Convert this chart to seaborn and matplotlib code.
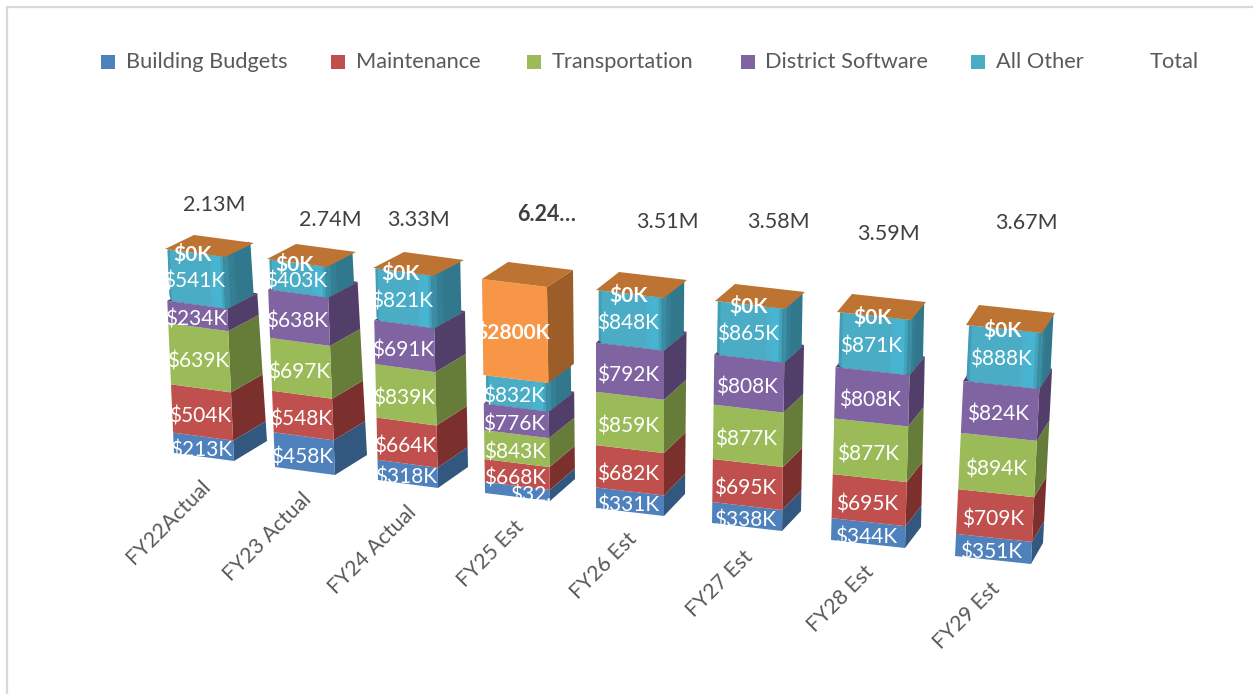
"""Budget by fiscal year, stacked bars drawn with a fake 3D perspective."""
import matplotlib
matplotlib.use("Agg")
import matplotlib.pyplot as plt
import numpy as np
import seaborn as sns
from matplotlib.patches import Polygon, Rectangle
from matplotlib.transforms import Affine2D

# data, in $K
years = ["FY22Actual", "FY23 Actual", "FY24 Actual", "FY25 Est", "FY26 Est", "FY27 Est", "FY28 Est", "FY29 Est"]
building = [213, 458, 318, 321, 331, 338, 344, 351]
maintenance = [504, 548, 664, 668, 682, 695, 695, 709]
transportation = [639, 697, 839, 843, 859, 877, 877, 894]
software = [234, 638, 691, 776, 792, 808, 808, 824]
all_other = [541, 403, 821, 832, 848, 865, 871, 888]
one_time = [0, 0, 0, 2800, 0, 0, 0, 0]
total_labels = ["2.13M", "2.74M", "3.33M", "6.24…", "3.51M", "3.58M", "3.59M", "3.67M"]
legend_names = ["Building Budgets", "Maintenance", "Transportation", "District Software", "All Other"]

# colours: front, side
front_cols = ["#4F81BD", "#C0504D", "#9BBB59", "#8064A2", "#4BACC6", "#F79646"]
side_cols = ["#33587F", "#7C302E", "#667D3A", "#523F69", "#31788C", "#9C5D28"]
top_col = "#BD7433"

# perspective layout per bar, in figure pixels
bottom_left = [(174, 453), (275, 467), (378, 480), (485, 493), (596, 508), (712, 523), (831, 540), (955, 556)]
width_vec = [(60, 8), (60, 8), (60, 8), (65, 8), (68, 8), (70, 8), (74, 8), (76, 8)]
top_left = [(165, 249), (267, 259), (373, 268), (482, 279), (596, 290), (715, 301), (837, 312), (966, 325)]
depth_bottom = [(33, -20), (32, -20), (30, -21), (25, -22), (21, -22), (19, -20), (16, -21), (12, -21)]
depth_top = [(29, -14), (29, -15), (31, -16), (26, -17), (23, -18), (20, -17), (15, -18), (13, -20)]

total_pos = [(214, 205), (330, 220), (418, 220), (547, 214), (667, 222), (778, 222), (888, 234), (1026, 223)]
tick_pos = [(169, 522), (268, 537), (372, 550), (491, 554), (604, 566), (720, 584), (841, 599), (967, 616)]
legend_marker_x = [101, 331, 527, 741, 971]
legend_text_x = [126, 356, 552, 765, 996, 1150]

series = [building, maintenance, transportation, software, all_other, one_time]
stack_tops = np.cumsum(np.array(series), axis=0)
stack_bottoms = stack_tops - np.array(series)
heights = stack_tops[-1]

W, H = 1253, 694
BAR_W = 0.8


def project(i, u, v, d=0.0):
    """bar i: u across the front, v in $K, d into the depth"""
    t = v / heights[i]
    x = bottom_left[i][0] + u * width_vec[i][0] + t * (top_left[i][0] - bottom_left[i][0])
    y = bottom_left[i][1] + u * width_vec[i][1] + t * (top_left[i][1] - bottom_left[i][1])
    x += d * (depth_bottom[i][0] + t * (depth_top[i][0] - depth_bottom[i][0]))
    y += d * (depth_bottom[i][1] + t * (depth_top[i][1] - depth_bottom[i][1]))
    return x, y


def bar_transform(i):
    """maps a seaborn bar (category x, $K y) to its sheared front face"""
    wx, wy = width_vec[i][0] / BAR_W, width_vec[i][1] / BAR_W
    vx = (top_left[i][0] - bottom_left[i][0]) / heights[i]
    vy = (top_left[i][1] - bottom_left[i][1]) / heights[i]
    left = i - BAR_W / 2
    return Affine2D.from_values(wx, wy, vx, vy,
                                bottom_left[i][0] - left * wx,
                                bottom_left[i][1] - left * wy)


def rounded(u0, u1, v0, v1, ru, rv, func):
    """outline of a rounded rectangle in (u, v) space"""
    a = np.linspace(0, np.pi / 2, 8)
    pts = []
    for cu, cv, sx, sy, ang in [(u1 - ru, v1 - rv, 1, 1, a), (u0 + ru, v1 - rv, -1, 1, a[::-1]),
                                (u0 + ru, v0 + rv, -1, -1, a), (u1 - ru, v0 + rv, 1, -1, a[::-1])]:
        for t in ang:
            pts.append(func(cu + sx * ru * np.cos(t), cv + sy * rv * np.sin(t)))
    return pts


sns.set_style("white")
plt.rcParams["font.family"] = ["Lato", "DejaVu Sans"]

fig = plt.figure(figsize=(W / 100, H / 100), dpi=100)
ax = fig.add_axes([0, 0, 1, 1])

# front faces come from seaborn, then get sheared into place
for s, vals in enumerate(series):
    sns.barplot(x=years, y=vals, bottom=stack_bottoms[s], color=front_cols[s], saturation=1,
                width=BAR_W, linewidth=0, errorbar=None, ax=ax)

ax.set_xlim(0, W)
ax.set_ylim(H, 0)
ax.axis("off")

for s, container in enumerate(ax.containers):
    for i, rect in enumerate(container):
        rect.set_transform(bar_transform(i) + ax.transData)
        rect.set_zorder(3 + 2 * s)

for i in range(len(years)):
    for s in range(len(series)):
        v0, v1 = stack_bottoms[s][i], stack_tops[s][i]
        if v1 == v0:
            continue
        if s == 4:
            # All Other has the soft cylinder look, a little narrower than the rest
            rv = min(70, (v1 - v0) / 3)
            front = rounded(0.04, 1.0, v0, v1 + rv * 0.6, 0.08, rv, lambda u, v: project(i, u, v))
            clip = Polygon(front, transform=ax.transData)
            ax.containers[s][i].set_clip_path(clip)
            for u0, u1, col in [(0.04, 0.08, "#459DB5"), (0.74, 0.80, "#4BB1CC"), (0.80, 0.92, "#47B5D2"),
                                (0.92, 0.96, "#44A3BC"), (0.96, 1.0, "#3B8CA2")]:
                strip = Polygon([project(i, u0, v0), project(i, u1, v0), project(i, u1, v1), project(i, u0, v1)],
                                facecolor=col, linewidth=0, zorder=3 + 2 * s)
                ax.add_patch(strip)
                strip.set_clip_path(clip)
            side = rounded(-0.1, 0.88, v0, v1 + rv * 0.6, 0.1, rv * 0.6, lambda d, v: project(i, 1.0, v, d))
            side_clip = Polygon(side, transform=ax.transData)
            ax.add_patch(Polygon(side, facecolor=side_cols[s], linewidth=0, zorder=2 + 2 * s))
            for d0, d1, col in [(-0.1, 0.12, "#3A8CA2"), (0.12, 0.3, "#347F94")]:
                strip = Polygon([project(i, 1.0, v0, d0), project(i, 1.0, v0, d1),
                                 project(i, 1.0, v1, d1), project(i, 1.0, v1, d0)],
                                facecolor=col, linewidth=0, zorder=2 + 2 * s)
                ax.add_patch(strip)
                strip.set_clip_path(side_clip)
        else:
            ax.add_patch(Polygon([project(i, 1, v0), project(i, 1, v0, 1), project(i, 1, v1, 1), project(i, 1, v1)],
                                 facecolor=side_cols[s], linewidth=0, zorder=2 + 2 * s))
            if s == 3:
                # seen around the rounded corners of the part above
                ax.add_patch(Polygon([project(i, 0, v1), project(i, 1, v1), project(i, 1, v1, 1), project(i, 0, v1, 1)],
                                     facecolor=side_cols[s], linewidth=0, zorder=2 + 2 * s))

    # lid of the stack
    top = heights[i]
    ax.add_patch(Polygon([project(i, 0, top), project(i, 1, top), project(i, 1, top, 1), project(i, 0, top, 1)],
                         facecolor=top_col, linewidth=0, zorder=16))

# value labels on the front faces
label_shift = [4, 4, 4, 4, 3, 1]
for s, vals in enumerate(series):
    for i, val in enumerate(vals):
        cx, cy = project(i, 0.5, stack_bottoms[s][i] + val / 2)
        text = f"${val}K"
        if s == 0 and years[i] == "FY25 Est":
            # this one is clipped in the source chart
            text, cx = "$32.", cx + 15
        ax.text(cx - 2, cy + label_shift[s], text, color="white", fontsize=15, ha="center", va="center", zorder=20,
                fontweight="bold" if s == 5 else "normal")

for (x, y), label in zip(total_pos, total_labels):
    ax.text(x, y, label, color="#404040", fontsize=15.5, ha="center", va="center", zorder=20,
            fontweight="bold" if label.endswith("…") else "normal")

for (x, y), label in zip(tick_pos, years):
    ax.text(x, y, label, color="#595959", fontsize=15.3, ha="center", va="center", rotation=45,
            rotation_mode="anchor", zorder=20)

# legend, Total has no swatch
for x, col in zip(legend_marker_x, front_cols):
    ax.add_patch(Rectangle((x, 55), 14, 14, facecolor=col, linewidth=0))
for x, label in zip(legend_text_x, legend_names + ["Total"]):
    ax.text(x, 62, label, color="#595959", fontsize=15.7, ha="left", va="center")

# chart frame
ax.plot([7, 7, W], [H, 7, 7], color="#D9D9D9", linewidth=1.6, solid_joinstyle="miter")

fig.savefig("out.png", dpi=100, facecolor="white")
